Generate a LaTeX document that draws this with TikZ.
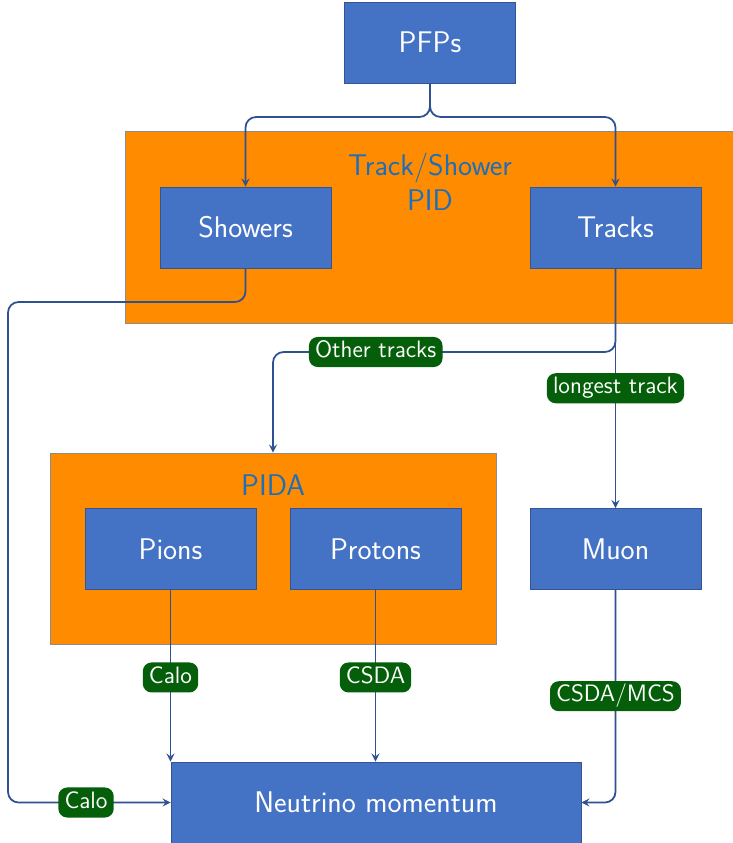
\documentclass[tikz,border=0pt]{standalone}
\usepackage{fontspec}
\usepackage{tikz}
\renewcommand{\familydefault}{\sfdefault}
\definecolor{boxblue}{RGB}{68,114,196}
\definecolor{grouporange}{RGB}{255,139,0}
\definecolor{titleblue}{RGB}{30,110,185}
\definecolor{flowblue}{RGB}{47,80,145}
\definecolor{taggreen}{RGB}{5,95,10}

\begin{document}
\begin{tikzpicture}[x=0.02cm,y=-0.02cm,
	blockbox/.style={draw=boxblue!75!black, line width=0.5pt, fill=boxblue, text=white, minimum width=3.42cm, minimum height=1.62cm, font=\fontsize{17}{20}\selectfont},
	groupbox/.style={draw=black!45, line width=0.5pt, fill=grouporange},
	grouptitle/.style={text=titleblue, align=center, font=\fontsize{17}{20}\selectfont},
	tag/.style={fill=taggreen, text=white, rounded corners=5pt, inner xsep=3.5pt, inner ysep=2.3pt, text height=9.5pt, text depth=3pt, font=\fontsize{13.5}{15}\selectfont},
	flow/.style={draw=flowblue, line width=1pt, rounded corners=6pt, >=stealth}]
		\useasboundingbox (0,0) rectangle (733,843);
		% group frames
		\node [groupbox, minimum width=12.16cm, minimum height=3.84cm] (tsbox) at (429,227) {};
		\node [groupbox, minimum width=8.92cm, minimum height=3.82cm] (pidabox) at (273,548.5) {};
		\node [grouptitle] (tstitle) at (430,182) {Track/Shower\\PID};
		\node [grouptitle] (pidatitle) at (273,485) {PIDA};
		% blocks
		\node [blockbox] (pfp) at (430,42.5) {PFPs};
		\node [blockbox] (showers) at (245.5,227.5) {Showers};
		\node [blockbox] (tracks) at (615.5,227.5) {Tracks};
		\node [blockbox] (pions) at (170.5,549) {Pions};
		\node [blockbox] (protons) at (375.5,549) {Protons};
		\node [blockbox] (muon) at (615.5,549) {Muon};
		\node [blockbox, minimum width=8.2cm] (neutrino) at (376,802.5) {Neutrino momentum};
		% turning points
		\coordinate (split) at (430,117);
		\coordinate (showerturn) at (8,302);
		\coordinate (otherturn) at (615.5,352);
		% connectors
		\draw [flow,->] (pfp.south) -- (split) -| (showers.north);
		\draw [flow,->] (pfp.south) -- (split) -| (tracks.north);
		\draw [flow,->] (showers.south) |- (showerturn) |- node[tag,pos=0.74]{Calo} (neutrino.west);
		\draw [flow,->] (tracks.south) -- (otherturn) -| node[tag,pos=0.35]{Other tracks} (pidabox.north);
		\draw [flow,->] (tracks.south) -- node[tag,pos=0.5]{longest track} (muon.north);
		\draw [flow,->] (pions.south) -- node[tag,pos=0.51]{Calo} (pions.south |- neutrino.north);
		\draw [flow,->] (protons.south) -- node[tag,pos=0.51]{CSDA} (protons.south |- neutrino.north);
		\draw [flow,->] (muon.south) |- node[tag,pos=0.25]{CSDA/MCS} (neutrino.east);
\end{tikzpicture}
\end{document}
